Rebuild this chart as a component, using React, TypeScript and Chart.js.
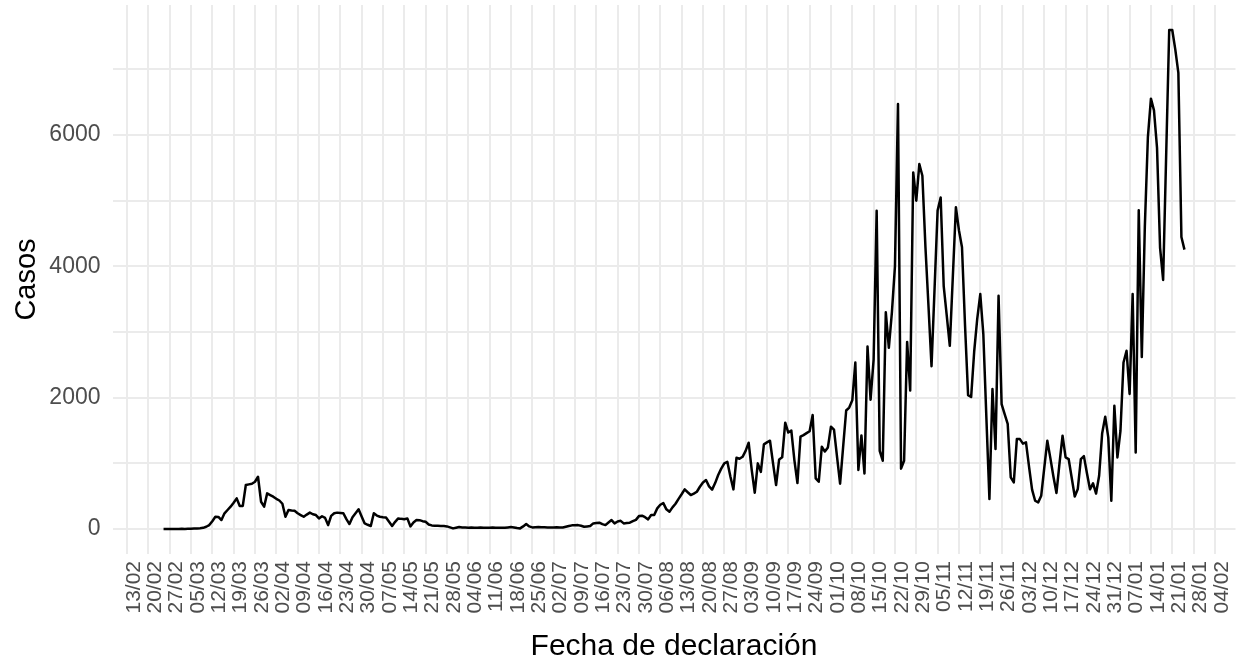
import React, { useEffect, useRef } from 'react';
import { Chart, registerables } from 'chart.js';

Chart.register(...registerables);

// Day index counted from 13/02/2020 (first weekly break). Series starts 25/02/2020.
const firstDay = 12;

// Daily cases by declaration date, 25/02/2020 .. 25/01/2021
const cases: number[] = [
  0, 0, 1, 0, 2, 1, 3, 2, 4, 6,
  8, 10, 12, 18, 35, 60, 120, 187, 185, 137,
  239, 290, 340, 400, 467, 350, 352, 670, 680, 690,
  720, 796, 416, 340, 543, 518, 493, 460, 435, 385,
  187, 290, 282, 278, 240, 213, 187, 220, 250, 225,
  213, 162, 195, 170, 60, 200, 240, 250, 245, 240,
  150, 76, 180, 240, 300, 190, 86, 65, 46, 240,
  205, 187, 180, 175, 110, 46, 110, 162, 155, 150,
  162, 40, 100, 137, 135, 120, 110, 70, 55, 50,
  50, 48, 46, 40, 25, 10, 20, 30, 25, 22,
  20, 22, 18, 20, 25, 20, 20, 18, 22, 20,
  20, 18, 20, 25, 30, 25, 15, 10, 40, 76,
  40, 25, 28, 30, 28, 26, 25, 25, 25, 26,
  25, 25, 35, 45, 56, 58, 60, 50, 35, 40,
  46, 86, 92, 97, 75, 60, 100, 137, 86, 115,
  125, 86, 92, 97, 120, 140, 197, 203, 180, 147,
  213, 213, 315, 370, 395, 300, 264, 330, 385, 460,
  530, 604, 560, 518, 540, 568, 644, 710, 746, 650,
  600, 700, 822, 920, 1000, 1025, 800, 604, 1085, 1070,
  1100, 1190, 1315, 900, 553, 1000, 870, 1290, 1320, 1345,
  1000, 670, 1060, 1092, 1619, 1470, 1500, 1050, 700, 1406,
  1430, 1460, 1490, 1736, 772, 720, 1253, 1180, 1243, 1558,
  1515, 1100, 690, 1250, 1805, 1850, 1960, 2535, 900, 1425,
  845, 2780, 1970, 2580, 4847, 1192, 1040, 3300, 2760, 3300,
  4000, 6472, 920, 1040, 2850, 2110, 5430, 5000, 5558, 5380,
  4300, 3400, 2480, 3660, 4850, 5050, 3700, 3250, 2790, 3850,
  4900, 4550, 4290, 3100, 2040, 2010, 2700, 3200, 3578, 2970,
  1700, 457, 2132, 1218, 3553, 1903, 1750, 1600, 786, 710,
  1370, 1370, 1300, 1320, 950, 600, 431, 406, 508, 930,
  1345, 1080, 800, 550, 1000, 1421, 1091, 1066, 780, 495,
  610, 1066, 1110, 850, 605, 695, 540, 812, 1460, 1710,
  1396, 431, 1878, 1091, 1497, 2537, 2715, 2056, 3578, 1167,
  4853, 2620, 4609, 5967, 6554, 6375, 5804, 4282, 3793, 5696,
  7600, 7600, 7300, 6946, 4446, 4255,
];

// Weekly x-axis breaks (every 7 days from 13/02/2020)
const weekLabels: string[] = [
  '13/02', '20/02', '27/02', '05/03', '12/03', '19/03', '26/03', '02/04', '09/04',
  '16/04', '23/04', '30/04', '07/05', '14/05', '21/05', '28/05', '04/06', '11/06',
  '18/06', '25/06', '02/07', '09/07', '16/07', '23/07', '30/07', '06/08', '13/08',
  '20/08', '27/08', '03/09', '10/09', '17/09', '24/09', '01/10', '08/10', '15/10',
  '22/10', '29/10', '05/11', '12/11', '19/11', '26/11', '03/12', '10/12', '17/12',
  '24/12', '31/12', '07/01', '14/01', '21/01', '28/01', '04/02',
];

// Y grid values (major labelled, minor unlabelled)
const yGrid: number[] = [0, 1000, 2000, 3000, 4000, 5000, 6000, 7000];
const yLabelled: number[] = [0, 2000, 4000, 6000];

const FONT = "'Liberation Sans', Arial, Helvetica, sans-serif";

export default function App() {
  const ref = useRef<HTMLCanvasElement>(null);

  useEffect(() => {
    if (!ref.current) return;
    const points = cases.map((v, i) => ({ x: firstDay + i, y: v }));
    const lastDay = firstDay + cases.length - 1;
    const span = lastDay - firstDay;
    const yMax = Math.max(...cases);
    const yMin = Math.min(...cases);
    const yExp = (yMax - yMin) * 0.05;

    const chart = new Chart(ref.current, {
      type: 'line',
      data: {
        datasets: [
          {
            data: points,
            borderColor: '#000000',
            borderWidth: 2.5,
            pointRadius: 0,
            tension: 0,
            fill: false,
            borderJoinStyle: 'round',
          },
        ],
      },
      options: {
        responsive: false,
        animation: false,
        plugins: { legend: { display: false }, tooltip: { enabled: false } },
        layout: { padding: { left: 0, right: 3.5, top: 5, bottom: 0 } },
        scales: {
          x: {
            type: 'linear',
            min: firstDay - 0.05 * span,
            max: lastDay + 0.05 * span,
            afterBuildTicks: (s: any) => {
              s.ticks = weekLabels.map((_, i) => ({ value: i * 7 }));
            },
            afterFit: (s: any) => {
              s.height = 108;
              s.paddingLeft = 0;
              s.paddingRight = 0;
            },
            ticks: {
              autoSkip: false,
              maxRotation: 90,
              minRotation: 90,
              padding: 7,
              labelOffset: 7,
              color: '#4D4D4D',
              font: { family: FONT, size: 21 },
              callback: (v: any) => weekLabels[Math.round(Number(v) / 7)] ?? '',
            },
            grid: { color: '#EBEBEB', lineWidth: 2, drawTicks: false },
            border: { display: false },
            title: {
              display: true,
              text: 'Fecha de declaración',
              color: '#000000',
              font: { family: FONT, size: 30, lineHeight: 1 },
              padding: { top: 0, bottom: 0 },
            },
          },
          y: {
            type: 'linear',
            min: yMin - yExp,
            max: yMax + yExp,
            afterBuildTicks: (s: any) => {
              s.ticks = yGrid.map((v) => ({ value: v }));
            },
            afterFit: (s: any) => {
              s.width = 112.5;
              s.paddingTop = 0;
              s.paddingBottom = 0;
            },
            ticks: {
              padding: 12,
              color: '#4D4D4D',
              font: { family: FONT, size: 23 },
              callback: (v: any) => (yLabelled.includes(Number(v)) ? String(v) : ''),
            },
            grid: { color: '#EBEBEB', lineWidth: 2, drawTicks: false },
            border: { display: false },
            title: {
              display: true,
              text: 'Casos',
              color: '#000000',
              font: { family: FONT, size: 29, lineHeight: 1 },
              padding: { top: 12, bottom: 0 },
            },
          },
        },
      },
    });
    return () => chart.destroy();
  }, []);

  return (
    <div style={{ position: 'fixed', left: 0, top: 0, width: 1239, height: 662, background: '#ffffff' }}>
      <canvas ref={ref} width={1239} height={662} style={{ display: 'block' }} />
    </div>
  );
}
